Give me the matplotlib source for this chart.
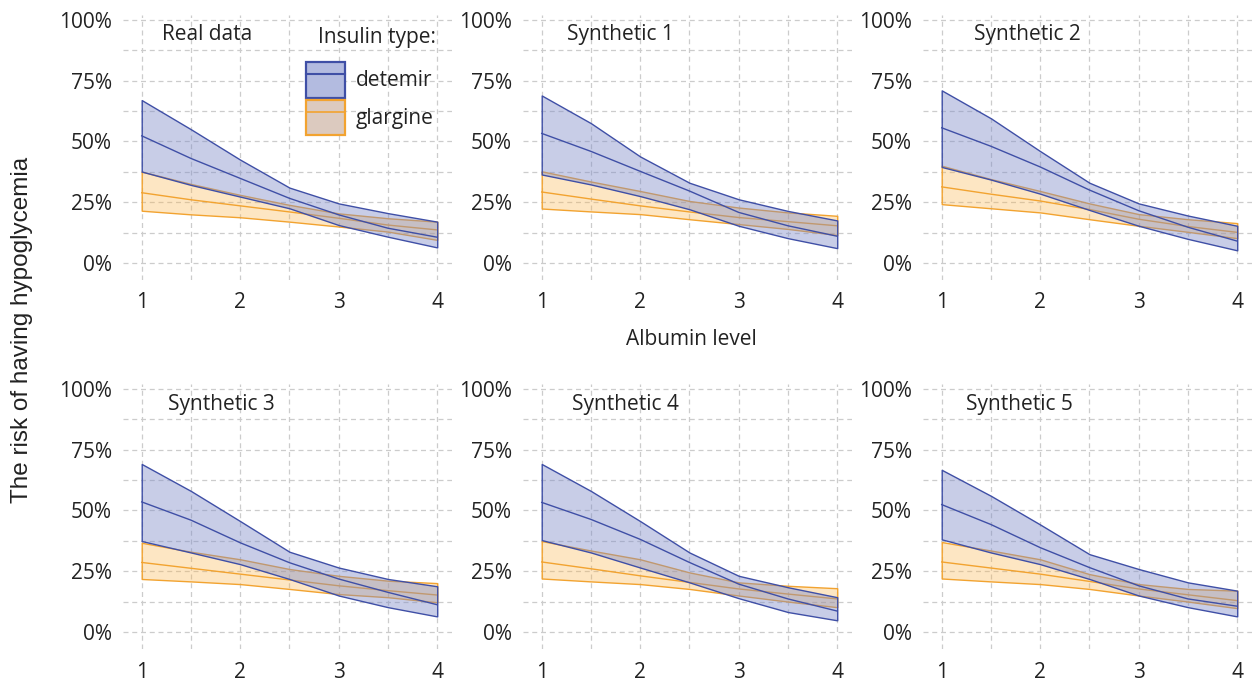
"""
Risiko einer Hypoglykaemie in Abhaengigkeit vom Albumin-Wert,
echte Daten vs. fuenf synthetische Datensaetze (2x3 Panels).
"""
import matplotlib
matplotlib.use("Agg")
import matplotlib.pyplot as plt
from matplotlib.colors import to_rgba
from matplotlib.lines import Line2D
from matplotlib.patches import Patch
from matplotlib.legend_handler import HandlerTuple
from matplotlib.ticker import FuncFormatter, MultipleLocator

plt.rcParams["font.family"] = ["Open Sans", "DejaVu Sans"]

# Albumin-Stuetzstellen
albumin = [1, 1.5, 2, 2.5, 3, 3.5, 4]

panel_titles = ["Real data", "Synthetic 1", "Synthetic 2",
                "Synthetic 3", "Synthetic 4", "Synthetic 5"]

# Werte in Prozent: Mittelwert, unteres / oberes Band
real_det_mid = [52.3, 43.0, 34.8, 26.6, 19.8, 14.3, 10.6]
real_det_lo = [37.6, 32.1, 27.3, 22.5, 15.6, 10.8, 6.4]
real_det_hi = [67.0, 55.0, 42.5, 31.0, 24.5, 20.5, 17.0]
real_gla_mid = [28.9, 26.0, 23.5, 21.0, 18.4, 15.6, 13.6]
real_gla_lo = [21.5, 20.0, 18.8, 17.0, 15.0, 12.9, 9.5]
real_gla_hi = [37.6, 32.5, 28.0, 23.9, 20.4, 18.4, 17.0]

syn1_det_mid = [53.3, 45.9, 37.7, 29.6, 20.8, 15.3, 11.0]
syn1_det_lo = [36.4, 32.3, 27.5, 22.1, 15.3, 10.2, 6.1]
syn1_det_hi = [68.9, 57.5, 43.8, 33.0, 26.2, 21.4, 17.5]
syn1_gla_mid = [29.2, 26.3, 23.5, 21.0, 18.7, 17.0, 15.3]
syn1_gla_lo = [22.4, 21.2, 20.1, 18.0, 16.0, 14.0, 11.5]
syn1_gla_hi = [37.7, 33.5, 29.6, 25.5, 22.8, 20.8, 19.4]

syn2_det_mid = [55.6, 48.0, 39.5, 30.0, 21.5, 14.7, 9.0]
syn2_det_lo = [39.5, 34.3, 28.5, 21.8, 15.3, 9.9, 5.2]
syn2_det_hi = [71.0, 59.5, 46.0, 33.0, 24.5, 19.5, 15.3]
syn2_gla_mid = [31.3, 28.3, 25.5, 22.0, 18.0, 15.0, 12.6]
syn2_gla_lo = [24.2, 22.5, 20.8, 18.0, 15.3, 12.8, 10.2]
syn2_gla_hi = [40.0, 34.5, 29.6, 24.5, 20.1, 18.0, 16.4]

syn3_det_mid = [53.5, 46.0, 36.7, 28.5, 21.8, 16.3, 11.2]
syn3_det_lo = [37.4, 32.7, 27.9, 21.8, 15.0, 10.2, 6.4]
syn3_det_hi = [69.1, 58.0, 45.6, 33.0, 26.5, 21.8, 18.8]
syn3_gla_mid = [28.6, 26.2, 23.8, 21.4, 19.0, 17.0, 15.2]
syn3_gla_lo = [21.8, 20.8, 19.7, 17.7, 15.6, 14.3, 12.2]
syn3_gla_hi = [36.7, 33.0, 29.9, 25.9, 23.1, 21.1, 20.1]

syn4_det_mid = [53.3, 46.3, 38.1, 28.6, 19.7, 13.6, 8.6]
syn4_det_lo = [37.8, 32.7, 26.5, 20.4, 13.9, 8.2, 4.8]
syn4_det_hi = [69.1, 58.0, 45.6, 32.7, 23.1, 18.4, 14.3]
syn4_gla_mid = [28.8, 26.0, 23.1, 20.4, 17.7, 15.6, 13.6]
syn4_gla_lo = [22.0, 20.8, 19.7, 17.7, 15.0, 12.5, 10.2]
syn4_gla_hi = [37.4, 33.5, 29.9, 24.5, 20.4, 19.0, 18.0]

syn5_det_mid = [52.4, 44.2, 34.7, 26.5, 19.0, 13.6, 10.6]
syn5_det_lo = [38.1, 32.7, 27.9, 21.8, 15.0, 10.2, 6.4]
syn5_det_hi = [66.7, 56.0, 44.2, 32.0, 25.9, 20.4, 17.0]
syn5_gla_mid = [28.8, 26.3, 23.8, 20.8, 17.7, 15.3, 12.9]
syn5_gla_lo = [22.0, 20.8, 19.7, 17.7, 15.0, 12.5, 9.8]
syn5_gla_hi = [37.0, 33.5, 29.9, 23.8, 19.7, 17.7, 17.0]

panels = [
    (real_det_mid, real_det_lo, real_det_hi, real_gla_mid, real_gla_lo, real_gla_hi),
    (syn1_det_mid, syn1_det_lo, syn1_det_hi, syn1_gla_mid, syn1_gla_lo, syn1_gla_hi),
    (syn2_det_mid, syn2_det_lo, syn2_det_hi, syn2_gla_mid, syn2_gla_lo, syn2_gla_hi),
    (syn3_det_mid, syn3_det_lo, syn3_det_hi, syn3_gla_mid, syn3_gla_lo, syn3_gla_hi),
    (syn4_det_mid, syn4_det_lo, syn4_det_hi, syn4_gla_mid, syn4_gla_lo, syn4_gla_hi),
    (syn5_det_mid, syn5_det_lo, syn5_det_hi, syn5_gla_mid, syn5_gla_lo, syn5_gla_hi),
]

# Farben
DET_LINE = "#3f4fa6"
DET_FILL = to_rgba("#7c8ac8", 0.42)
GLA_LINE = "#f2a330"
GLA_FILL = to_rgba("#fbb44a", 0.33)
TEXT_COL = "#222222"
GRID_COL = "#cccccc"

# Layout in Pixeln (Figur 1253 x 684)
W, H = 1253, 684
col_left = [123, 523, 923]
row_top = [15, 384]
ax_w, ax_h = 329, 265
title_pos = [(0.119, 0.925), (0.133, 0.925), (0.155, 0.925),
             (0.137, 0.921), (0.148, 0.921), (0.131, 0.921)]

fig = plt.figure(figsize=(W / 100, H / 100), dpi=100)

pct = FuncFormatter(lambda v, _: f"{v:.0f}%")

for i, data in enumerate(panels):
    r, c = divmod(i, 3)
    left = col_left[c] / W
    bottom = 1 - (row_top[r] + ax_h) / H
    ax = fig.add_axes([left, bottom, ax_w / W, ax_h / H])

    det_mid, det_lo, det_hi, gla_mid, gla_lo, gla_hi = data

    ax.fill_between(albumin, gla_lo, gla_hi, facecolor=GLA_FILL,
                    edgecolor=GLA_LINE, linewidth=1.0, zorder=2)
    ax.plot(albumin, gla_mid, color=GLA_LINE, linewidth=1.0, zorder=3)
    ax.fill_between(albumin, det_lo, det_hi, facecolor=DET_FILL,
                    edgecolor=DET_LINE, linewidth=1.0, zorder=4)
    ax.plot(albumin, det_mid, color=DET_LINE, linewidth=1.0, zorder=5)

    ax.set_xlim(0.81, 4.15)
    ax.set_ylim(-7, 102)
    ax.xaxis.set_major_locator(MultipleLocator(1))
    ax.xaxis.set_minor_locator(MultipleLocator(0.5))
    ax.yaxis.set_major_locator(MultipleLocator(25))
    ax.yaxis.set_minor_locator(MultipleLocator(12.5))
    ax.yaxis.set_major_formatter(pct)
    ax.grid(True, which="both", color=GRID_COL, linestyle=(0, (4, 3)),
            linewidth=0.9, zorder=0)
    ax.set_axisbelow(True)
    for s in ax.spines.values():
        s.set_visible(False)
    ax.tick_params(which="both", length=0, labelsize=15, colors=TEXT_COL)
    ax.tick_params(axis="x", pad=9)
    ax.tick_params(axis="y", pad=8)

    tx, ty = title_pos[i]
    ax.text(tx, ty, panel_titles[i], transform=ax.transAxes, fontsize=15,
            color=TEXT_COL, ha="left", va="center")

# Achsenbeschriftungen
fig.text(691 / W, 1 - 340 / H, "Albumin level", fontsize=15,
         color=TEXT_COL, ha="center", va="center")
fig.text(22 / W, 1 - 330 / H, "The risk of having hypoglycemia",
         fontsize=17.5, color=TEXT_COL, rotation=90, ha="center", va="center",
         family=["Liberation Sans", "DejaVu Sans"])

# Legende (Titel separat, damit der Abstand zu den Eintraegen passt)
fig.text(377 / W, 1 - 38 / H, "Insulin type:", fontsize=15,
         color=TEXT_COL, ha="center", va="center")
h_det = (Patch(facecolor="#b3bbe0", edgecolor=DET_LINE, linewidth=1.6),
         Line2D([], [], color=DET_LINE, linewidth=1.5))
h_gla = (Patch(facecolor="#dccabf", edgecolor=GLA_LINE, linewidth=1.6),
         Line2D([], [], color=GLA_LINE, linewidth=1.2))
leg = fig.legend([h_det, h_gla], ["detemir", "glargine"],
                 loc="upper left", bbox_to_anchor=(306 / W, 1 - 62 / H),
                 handler_map={tuple: HandlerTuple(ndivide=1)},
                 frameon=False, fontsize=15,
                 handlelength=1.85, handleheight=2.25, handletextpad=0.55,
                 labelspacing=0.1, borderpad=0, borderaxespad=0)
for t in leg.get_texts():
    t.set_color(TEXT_COL)

fig.savefig("out.png", dpi=100)
plt.close(fig)
